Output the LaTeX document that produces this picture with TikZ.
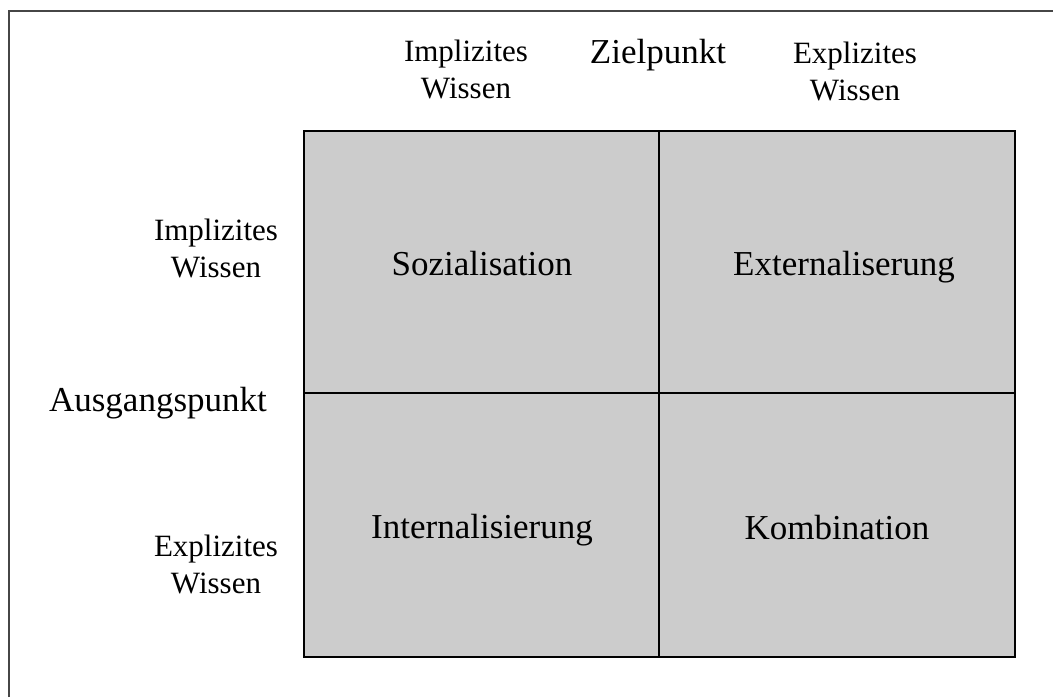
\documentclass[tikz,border=0pt]{standalone}
\usepackage{fontspec}
\setmainfont{Liberation Serif}
\definecolor{cellgray}{RGB}{204,204,204}
\definecolor{framegray}{RGB}{70,70,70}
\begin{document}
\begin{tikzpicture}[x=1pt,y=-1pt,
  biglabel/.style={font=\fontsize{35}{40}\selectfont, inner sep=0pt, anchor=base},
  % multi-line labels: the base anchor sits on the last line
  smalllabel/.style={font=\fontsize{31}{36.5}\selectfont, inner sep=0pt, align=center, anchor=base},
  cellline/.style={line width=1.6pt, black}]
\useasboundingbox (0,0) rectangle (1053,697);
% outer frame (left and top edges)
\coordinate (fbl) at (9,697);
\coordinate (ftl) at (9,11);
\coordinate (ftr) at (1053,11);
\draw[line width=1.6pt, framegray] (fbl) -- (ftl) -- (ftr);
% the 2x2 matrix
\coordinate (gtl) at (304,131);
\coordinate (gbr) at (1015,657);
\coordinate (vtop) at (659,131);
\coordinate (vbot) at (659,657);
\coordinate (hleft) at (304,393);
\coordinate (hright) at (1015,393);
\fill[cellgray] (gtl) rectangle (gbr);
\draw[cellline] (vtop) -- (vbot);
\draw[cellline] (hleft) -- (hright);
\draw[cellline] (gtl) rectangle (gbr);
% column headings
\node[smalllabel] (colimpl) at (466,98) {Implizites\\Wissen};
\node[biglabel] (ziel) at (658,63) {Zielpunkt};
\node[smalllabel] (colexpl) at (855,100) {Explizites\\Wissen};
% row headings
\node[smalllabel] (rowimpl) at (216,277) {Implizites\\Wissen};
\node[biglabel] (ausgang) at (158,411) {Ausgangspunkt};
\node[smalllabel] (rowexpl) at (216,593) {Explizites\\Wissen};
% cell labels
\node[biglabel] (sozial) at (482,275) {Sozialisation};
\node[biglabel] (extern) at (844,275) {Externaliserung};
\node[biglabel] (intern) at (482,538) {Internalisierung};
\node[biglabel] (kombi) at (837,539) {Kombination};
\end{tikzpicture}
\end{document}
